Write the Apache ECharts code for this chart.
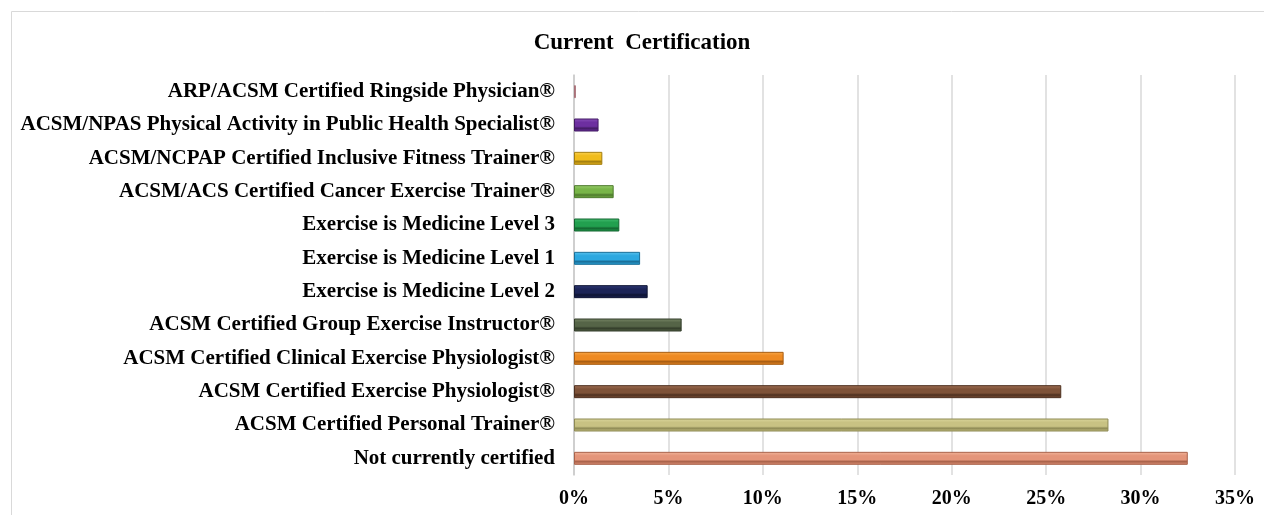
<!DOCTYPE html>
<html>
<head>
<meta charset="utf-8">
<title>Current Certification</title>
<script src="https://cdn.jsdelivr.net/npm/echarts@6/dist/echarts.min.js"></script>
<style>
  html, body { margin: 0; padding: 0; background: #fff; }
  #chart { width: 1264px; height: 515px; }
</style>
</head>
<body>
<div id="chart"></div>
<script>
// bottom to top, as on the category axis
const categories = [
    'Not currently certified',
    'ACSM Certified Personal Trainer®',
    'ACSM Certified Exercise Physiologist®',
    'ACSM Certified Clinical Exercise Physiologist®',
    'ACSM Certified Group Exercise Instructor®',
    'Exercise is Medicine Level 2',
    'Exercise is Medicine Level 1',
    'Exercise is Medicine Level 3',
    'ACSM/ACS Certified Cancer Exercise Trainer®',
    'ACSM/NCPAP Certified Inclusive Fitness Trainer®',
    'ACSM/NPAS Physical Activity in Public Health Specialist®',
    'ARP/ACSM Certified Ringside Physician®'
];
const percents = [32.5, 28.3, 25.8, 11.1, 5.7, 3.9, 3.5, 2.4, 2.1, 1.5, 1.3, 0.1];
const barColors = [
    ['#f2b69c', '#e4957a', '#a9624a'],
    ['#dcd79e', '#c8c283', '#8e8a55'],
    ['#a27256', '#7e5238', '#4e301f'],
    ['#f9a94a', '#ee8a22', '#a85d12'],
    ['#7b8a68', '#556447', '#333d2a'],
    ['#303a78', '#1c2457', '#0e1433'],
    ['#5cc4ef', '#2ca8e0', '#1a6f98'],
    ['#46bf72', '#22a04f', '#136630'],
    ['#9cd06f', '#78b548', '#4d7a2c'],
    ['#fbd255', '#f0bc1c', '#a37e0e'],
    ['#8c52bc', '#6d2fa0', '#431b64'],
    ['#ecc2c8', '#d8a0a8', '#a87078']
];
const xTicks = [0, 5, 10, 15, 20, 25, 30, 35];

const serif = '"Liberation Serif", "Times New Roman", serif';

const barData = percents.map((v, i) => {
    const c = barColors[i];
    return {
        value: v,
        itemStyle: {
            color: new echarts.graphic.LinearGradient(0, 0, 0, 1, [
                { offset: 0, color: c[0] },
                { offset: 0.3, color: c[1] },
                { offset: 0.6, color: c[1] },
                { offset: 0.75, color: c[2] },
                { offset: 1, color: c[1] }
            ]),
            borderColor: c[2],
            borderWidth: 1
        }
    };
});

const myChart = echarts.init(document.getElementById('chart'));
myChart.setOption({
    animation: false,
    title: {
        text: 'Current  Certification',
        left: 637,
        textAlign: 'center',
        top: 27,
        textStyle: {
            fontFamily: serif,
            fontSize: 23,
            fontWeight: 'bold',
            color: '#000'
        }
    },
    graphic: [
        {
            type: 'rect',
            shape: { x: 11.5, y: 11.5, width: 1400, height: 700 },
            style: { fill: 'none', stroke: '#d9d9d9', lineWidth: 1 },
            silent: true
        }
    ],
    grid: {
        left: 574,
        right: 29,
        top: 75,
        bottom: 40,
        containLabel: false
    },
    xAxis: {
        type: 'value',
        min: xTicks[0],
        max: xTicks[xTicks.length - 1],
        interval: 5,
        axisLine: { show: false },
        axisTick: { show: false },
        splitLine: { show: true, lineStyle: { color: '#d9d9d9', width: 1.5 } },
        axisLabel: {
            formatter: '{value}%',
            margin: 14,
            fontFamily: serif,
            fontSize: 20,
            fontWeight: 'bold',
            color: '#000'
        }
    },
    yAxis: {
        type: 'category',
        data: categories,
        axisLine: { show: true, lineStyle: { color: '#c8c8c8', width: 1.5 } },
        axisTick: { show: false },
        axisLabel: {
            margin: 19,
            fontFamily: serif,
            fontSize: 21,
            fontWeight: 'bold',
            color: '#000'
        }
    },
    series: [
        {
            type: 'bar',
            data: barData,
            barWidth: 13
        }
    ]
});
</script>
</body>
</html>
